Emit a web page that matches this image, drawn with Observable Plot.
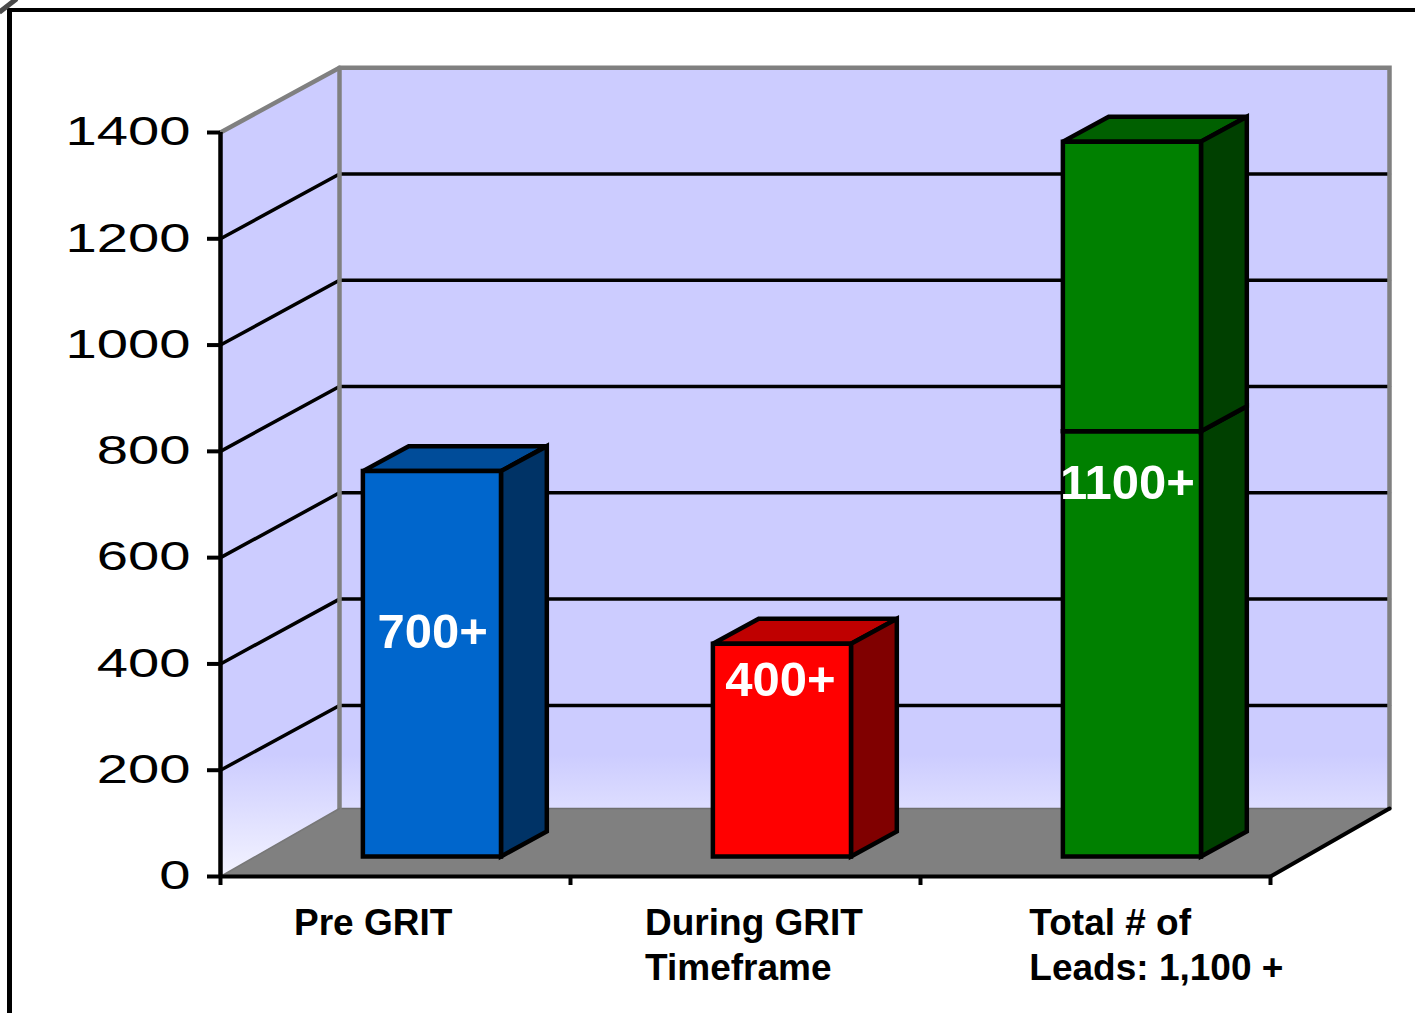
<!DOCTYPE html>
<html>
<head>
<meta charset="utf-8">
<script src="https://cdn.jsdelivr.net/npm/d3@7"></script>
<script src="https://cdn.jsdelivr.net/npm/@observablehq/plot@0.6"></script>
<style>
  html, body { margin: 0; padding: 0; background: #fff; overflow: hidden; }
  #chart { position: relative; width: 1415px; height: 1013px; overflow: hidden; color: #000; }
  #chart svg { display: block; position: absolute; left: 0; top: 0; max-width: none; }
  .edge { position: absolute; background: #000; }
  #top { left: 8px; top: 8px; width: 1407px; height: 4px; }
  #left { left: 7px; top: 8px; width: 5px; height: 1005px; }
  #nick { left: -3px; top: 3px; width: 22px; height: 5px; background: #4a4a4a; transform: rotate(-38deg); }
</style>
</head>
<body>
<div id="chart"><div id="top" class="edge"></div><div id="left" class="edge"></div><div id="nick" class="edge"></div></div>
<script>
// ---- chart values ----
const categoryLabels = ["Pre GRIT", "During GRIT\nTimeframe", "Total # of\nLeads: 1,100 +"];
const categoryStarts = [0.21, 1.213, 2.311];       // left edge of each label, in category units
const lowerValues = [725, 400, 800];
const upperValues = [0, 0, 545];
const valueLabels = ["700+", "400+", "1100+"];
const valueLabelX = [0.606, 1.6, 2.591];
const valueLabelY = [460, 370, 739];
const yTicks = [0, 200, 400, 600, 800, 1000, 1200, 1400];
const gridValues = [200, 400, 600, 800, 1000, 1200];
const frontColors = ["#0066cc", "#ff0000", "#008000"];
const sideColors = ["#003366", "#800000", "#004000"];
const topColors = ["#004c99", "#bf0000", "#006000"];

// ---- oblique projection, in data units of the two scales ----
const yMax = 1400, nCat = 3;
const depthX = 0.34, depthY = 122;          // shift of a full unit of depth
const floorLift = 6;                        // back floor edge sits slightly above value 0
const barLeft = 0.3014, barRight = 0.696, barFront = 0.31, barBack = 0.695;
const P = (x, v, d) => ({x: x + depthX * d, y: v + depthY * d});

const poly = (pts, fill, stroke = "none", strokeWidth = 0, closed = true) =>
  Plot.line(pts, {x: "x", y: "y", fill, stroke, strokeWidth,
    curve: closed ? "linear-closed" : "linear", strokeLinejoin: "miter", strokeMiterlimit: 3});

function box(i, from, to) {
  const l = i + barLeft, r = i + barRight;
  return [
    poly([P(l, to, barFront), P(l, to, barBack), P(r, to, barBack), P(r, to, barFront)], topColors[i], "#000", 4.5),
    poly([P(r, from, barFront), P(r, from, barBack), P(r, to, barBack), P(r, to, barFront)], sideColors[i], "#000", 4.5),
    poly([P(l, from, barFront), P(r, from, barFront), P(r, to, barFront), P(l, to, barFront)], frontColors[i], "#000", 4.5)
  ];
}

const gradient = (index, {y}) => {
  const defs = d3.create("svg:defs");
  const g = defs.append("linearGradient").attr("id", "wall")
    .attr("gradientUnits", "userSpaceOnUse")
    .attr("x1", 0).attr("x2", 0).attr("y1", y(230)).attr("y2", y(0));
  g.append("stop").attr("offset", 0).attr("stop-color", "#ccccff");
  g.append("stop").attr("offset", 1).attr("stop-color", "#f3f3ff");
  return defs.node();
};

const plot = Plot.plot({
  width: 1415, height: 1013,
  marginLeft: 220, marginRight: 145, marginTop: 132, marginBottom: 137,
  x: {domain: [0, nCat]},
  y: {domain: [0, yMax]},
  style: {fontFamily: "'Liberation Sans', Arial, sans-serif", background: "transparent", color: "#000"},
  marks: [
    gradient,
    // back wall and left wall
    poly([P(0, floorLift, 1), P(nCat, floorLift, 1), P(nCat, yMax, 1), P(0, yMax, 1)], "url(#wall)"),
    poly([P(0, 0, 0), P(0, floorLift, 1), P(0, yMax, 1), P(0, yMax, 0)], "url(#wall)"),
    // gridlines run along the left wall and across the back wall
    ...gridValues.map(v => poly([P(0, v, 0), P(0, v, 1), P(nCat, v, 1)], "none", "#000", 3.5, false)),
    // floor
    poly([P(0, 0, 0), P(nCat, 0, 0), P(nCat, floorLift, 1), P(0, floorLift, 1)], "#808080"),
    poly([P(0, floorLift, 1), P(nCat, floorLift, 1)], "none", "#6e6e6e", 1.5, false),
    // grey wall borders
    poly([P(0, yMax, 0), P(0, yMax, 1), P(nCat, yMax, 1), P(nCat, floorLift, 1)], "none", "#808080", 4.5, false),
    poly([P(0, yMax, 1), P(0, floorLift, 1)], "none", "#808080", 4.5, false),
    poly([P(0, 0, 0), P(0, floorLift, 1)], "none", "#777", 1.5, false),
    poly([P(nCat, 0, 0), P(nCat, floorLift, 1)], "none", "#000", 4, false),
    // axes
    Plot.ruleY([0], {stroke: "#000", strokeWidth: 4}),
    Plot.ruleX([0], {stroke: "#000", strokeWidth: 4.5}),
    Plot.axisY({ticks: yTicks, tickFormat: d => String(d), anchor: "left", label: null,
      tickSize: 13, tickPadding: 17, fontSize: 40, strokeWidth: 4, stroke: "#000", fill: "#000"}),
    Plot.axisX({ticks: d3.range(nCat + 1), tickFormat: () => "", anchor: "bottom", label: null,
      tickSize: 9, strokeWidth: 4, stroke: "#000"}),
    // bars
    ...lowerValues.flatMap((v, i) => box(i, 0, v)),
    ...upperValues.flatMap((v, i) => v > 0 ? box(i, lowerValues[i], lowerValues[i] + v) : []),
    // value labels
    Plot.text(valueLabels, {x: (d, i) => valueLabelX[i], y: (d, i) => valueLabelY[i], text: d => d,
      fill: "#fff", fontSize: 49, fontWeight: "bold", textAnchor: "middle", lineAnchor: "middle"}),
    // category labels
    Plot.text(categoryLabels, {x: (d, i) => categoryStarts[i], y: () => 0, text: d => d,
      fill: "#000", fontSize: 37, fontWeight: "bold", textAnchor: "start", lineAnchor: "top",
      lineHeight: 1.216, dy: 27})
  ]
});

// the original's axis numerals are horizontally stretched
d3.select(plot).selectAll('[aria-label="y-axis tick label"] text').each(function () {
  const s = this.textContent;
  d3.select(this).attr("textLength", 31.25 * s.length).attr("lengthAdjust", "spacingAndGlyphs");
});
document.getElementById("chart").prepend(plot);
</script>
</body>
</html>
